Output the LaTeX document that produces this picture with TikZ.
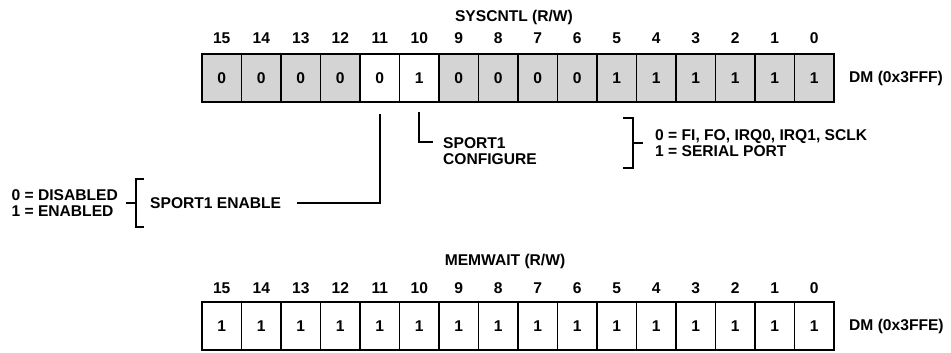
\documentclass[tikz,border=0pt]{standalone}
\usepackage{fontspec}
\setmainfont{Liberation Sans}
\usetikzlibrary{calc}
\definecolor{cellgray}{RGB}{212,212,212}
\begin{document}
\begin{tikzpicture}[x=1pt,y=-1pt,
  font=\fontsize{15.6}{16.5}\selectfont\bfseries,
  cell/.style={draw, line width=1.5pt, minimum width=39.5pt, minimum height=48pt,
    inner sep=0pt, outer sep=0pt, anchor=north west, text height=11pt, text depth=0pt},
  num/.style={inner sep=0pt, text height=11pt, text depth=0pt},
  sep/.style={line width=2.8pt},
  conn/.style={line width=1.6pt, line join=miter},
  lbl/.style={inner sep=0pt, align=left}]
\useasboundingbox (0,0) rectangle (951,353);
% ---------- SYSCNTL ----------
\node[num] (ttitle) at (514,16) {SYSCNTL (R/W)};
\foreach \v [count=\k from 0] in {0,0,0,0,0,1,0,0,0,0,1,1,1,1,1,1} {
  \pgfmathtruncatemacro\b{15-\k}
  \ifnum\b=11 \def\fc{white}\else\ifnum\b=10 \def\fc{white}\else\def\fc{cellgray}\fi\fi
  \node[cell, fill=\fc] (t\b) at ({202+39.5*\k},54) {\v};
  \node[num] (tn\b) at ({221.75+39.5*\k},38) {\b};
}
\foreach \b in {12,8,4} \draw[sep] (t\b.north east) -- (t\b.south east);
\node[lbl, anchor=west] (tdm) at (849,78) {DM (0x3FFF)};
% ---------- MEMWAIT ----------
\node[num] (btitle) at (505,260) {MEMWAIT (R/W)};
\foreach \k in {0,...,15} {
  \pgfmathtruncatemacro\b{15-\k}
  \node[cell, fill=white] (b\b) at ({202+39.5*\k},302) {1};
  \node[num] (bn\b) at ({221.75+39.5*\k},288) {\b};
}
\foreach \b in {12,8,4} \draw[sep] (b\b.north east) -- (b\b.south east);
\node[lbl, anchor=west] (bdm) at (849,326) {DM (0x3FFE)};
% ---------- SPORT1 ENABLE (bit 11) ----------
\node[lbl, anchor=west] (enable) at (150,203) {SPORT1 ENABLE};
\coordinate (e1) at ($(t11.south)+(0,12)$);
\draw[conn] (e1) |- ($(enable.east)+(16,0)$);
\draw[conn] (144,179) -- (136,179) -- (136,227) -- (144,227);
\draw[conn] (136,203) -- (126,203);
\node[lbl, anchor=east] (enval) at (118,203) {0 = DISABLED\\1 = ENABLED};
% ---------- SPORT1 CONFIGURE (bit 10) ----------
\node[lbl, anchor=north west] (config) at (443,137) {SPORT1\\CONFIGURE};
\coordinate (c1) at ($(t10.south)+(0,10)$);
\draw[conn] (c1) |- (433,142);
% ---------- right bracket ----------
\draw[conn] (623,118) -- (633,118) -- (633,168) -- (623,168);
\draw[conn] (633,143) -- (643,143);
\node[lbl, anchor=west] (cfgval) at (655,143) {0 = FI, FO, IRQ0, IRQ1, SCLK\\1 = SERIAL PORT};
\end{tikzpicture}
\end{document}
